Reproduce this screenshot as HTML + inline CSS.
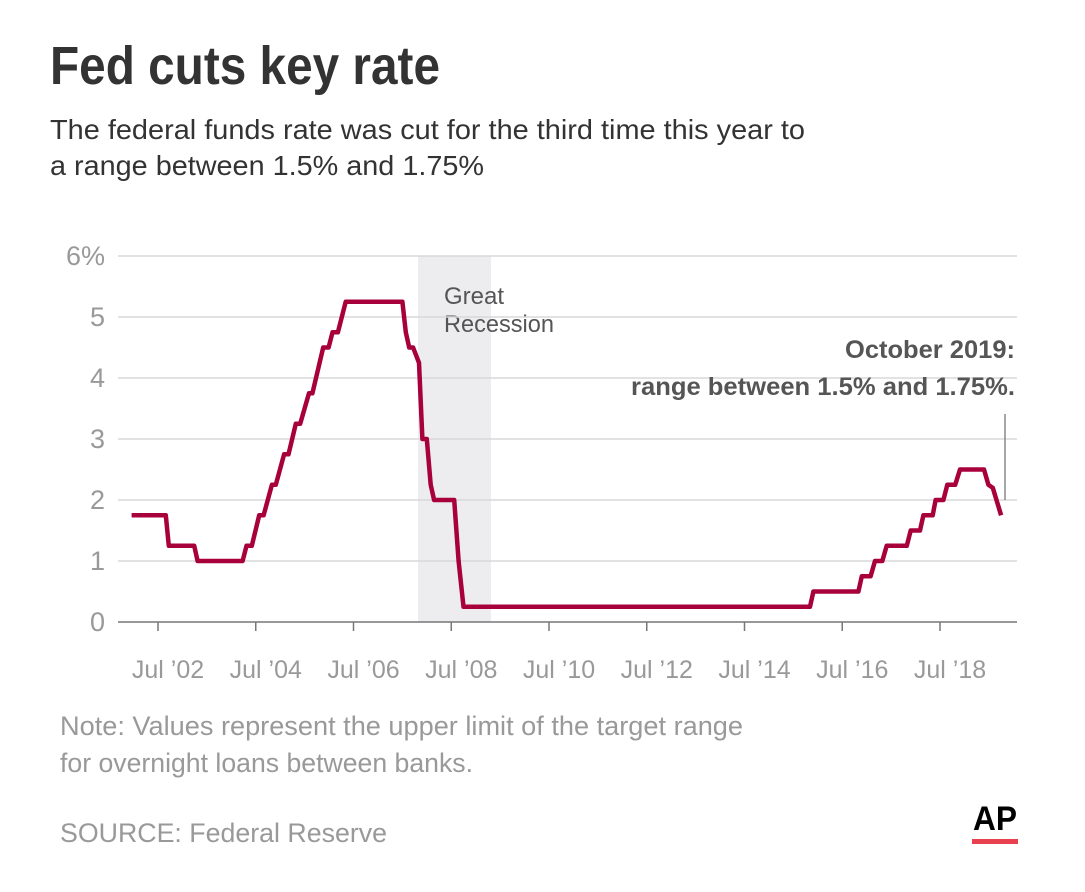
<!DOCTYPE html>
<html><head><meta charset="utf-8"><style>
body{margin:0;background:#fff}
svg{display:block;font-family:"Liberation Sans Narrow","Liberation Sans",sans-serif}
</style></head><body>
<svg id="chart" width="1085" height="892" viewBox="0 0 1085 892">
<text x="50" y="84" font-size="54" font-weight="bold" fill="#333" textLength="390" lengthAdjust="spacingAndGlyphs">Fed cuts key rate</text>
<text x="50" y="139" font-size="28" fill="#333" textLength="755" lengthAdjust="spacingAndGlyphs">The federal funds rate was cut for the third time this year to</text>
<text x="50" y="175" font-size="28" fill="#333" textLength="434" lengthAdjust="spacingAndGlyphs">a range between 1.5% and 1.75%</text>
<rect x="418" y="256" width="73" height="366" fill="#ededf0"/>
<text x="444" y="304" font-size="24" fill="#555" textLength="60" lengthAdjust="spacingAndGlyphs">Great</text>
<text x="444" y="332" font-size="24" fill="#555" textLength="110" lengthAdjust="spacingAndGlyphs">Recession</text>
<g id="grid"></g><g id="xaxis"></g>
<path id="line" fill="none" stroke="#a8003b" stroke-width="4.5" stroke-linejoin="round"/>
<line x1="1005" y1="414" x2="1005" y2="500" stroke="#888" stroke-width="1.5"/>
<text x="1015" y="358" font-size="25" font-weight="bold" fill="#555" text-anchor="end" textLength="170" lengthAdjust="spacingAndGlyphs">October 2019:</text>
<text x="1015" y="395" font-size="25" font-weight="bold" fill="#555" text-anchor="end" textLength="384" lengthAdjust="spacingAndGlyphs">range between 1.5% and 1.75%.</text>
<text x="60" y="735" font-size="27" fill="#999" textLength="683" lengthAdjust="spacingAndGlyphs">Note: Values represent the upper limit of the target range</text>
<text x="60" y="772" font-size="27" fill="#999" textLength="413" lengthAdjust="spacingAndGlyphs">for overnight loans between banks.</text>
<text x="60" y="842" font-size="27" fill="#999" textLength="327" lengthAdjust="spacingAndGlyphs">SOURCE: Federal Reserve</text>
<text x="973" y="830" font-size="34" font-weight="bold" fill="#000" textLength="44" lengthAdjust="spacingAndGlyphs">AP</text>
<rect x="972" y="839" width="46" height="5" fill="#e8404f"/>
</svg>
<script>
const years=[2001.96,2002.66,2002.72,2003.24,2003.31,2004.23,2004.31,2004.42,2004.57,2004.66,2004.83,2004.91,2005.08,2005.17,2005.32,2005.41,2005.59,2005.66,2005.88,2005.99,2006.07,2006.18,2006.34,2007.50,2007.57,2007.64,2007.72,2007.84,2007.91,2008.00,2008.08,2008.15,2008.56,2008.65,2008.75,2015.84,2015.91,2016.83,2016.90,2017.08,2017.17,2017.32,2017.41,2017.82,2017.90,2018.09,2018.16,2018.35,2018.41,2018.57,2018.65,2018.81,2018.91,2019.40,2019.49,2019.58,2019.75];
const rates=[1.75,1.75,1.25,1.25,1.0,1.0,1.25,1.25,1.75,1.75,2.25,2.25,2.75,2.75,3.25,3.25,3.75,3.75,4.5,4.5,4.75,4.75,5.25,5.25,4.75,4.5,4.5,4.25,3.0,3.0,2.25,2.0,2.0,1.0,0.25,0.25,0.5,0.5,0.75,0.75,1.0,1.0,1.25,1.25,1.5,1.5,1.75,1.75,2.0,2.0,2.25,2.25,2.5,2.5,2.25,2.2,1.75];
const yTicks=[0,1,2,3,4,5,6];
const yTickLabels=["0","1","2","3","4","5","6%"];
const xTicks=[2002.5,2004.5,2006.5,2008.5,2010.5,2012.5,2014.5,2016.5,2018.5];
const xTickLabels=["Jul \u201902","Jul \u201904","Jul \u201906","Jul \u201908","Jul \u201910","Jul \u201912","Jul \u201914","Jul \u201916","Jul \u201918"];
const NS="http://www.w3.org/2000/svg";
const xs=t=>158+(t-2002.5)*48.875;
const ys=v=>622-v*61;
const grid=document.getElementById('grid'),xa=document.getElementById('xaxis');
yTicks.forEach((v,i)=>{
 if(v>0){const l=document.createElementNS(NS,'line');
 
 
 l.setAttribute('x1',118);l.setAttribute('x2',1017);l.setAttribute('y1',ys(v));l.setAttribute('y2',ys(v));
 l.setAttribute('stroke','#d8d8d8');l.setAttribute('stroke-width','1.5');grid.appendChild(l);}
 const t=document.createElementNS(NS,'text');
 
 
 t.setAttribute('x',105);t.setAttribute('y',ys(v)+9);t.setAttribute('text-anchor','end');
 t.setAttribute('font-size','27');t.setAttribute('fill','#999');t.textContent=yTickLabels[i];grid.appendChild(t);
});
const ax=document.createElementNS(NS,'line');


ax.setAttribute('x1',118);ax.setAttribute('x2',1017);ax.setAttribute('y1',622);ax.setAttribute('y2',622);
ax.setAttribute('stroke','#777');ax.setAttribute('stroke-width','1.5');xa.appendChild(ax);
xTicks.forEach((v,i)=>{
 const l=document.createElementNS(NS,'line');
 
 
 l.setAttribute('x1',xs(v));l.setAttribute('x2',xs(v));l.setAttribute('y1',622);l.setAttribute('y2',631);
 l.setAttribute('stroke','#777');l.setAttribute('stroke-width','1.5');xa.appendChild(l);
 const t=document.createElementNS(NS,'text');
 
 
 t.setAttribute('x',xs(v)+10);t.setAttribute('y',678);t.setAttribute('text-anchor','middle');
 t.setAttribute('font-size','25');t.setAttribute('fill','#999');t.textContent=xTickLabels[i];xa.appendChild(t);
});
document.getElementById('line').setAttribute('d',years.map((t,i)=>(i?'L':'M')+xs(t).toFixed(1)+','+ys(rates[i]).toFixed(1)).join(''));
</script>
</body></html>
